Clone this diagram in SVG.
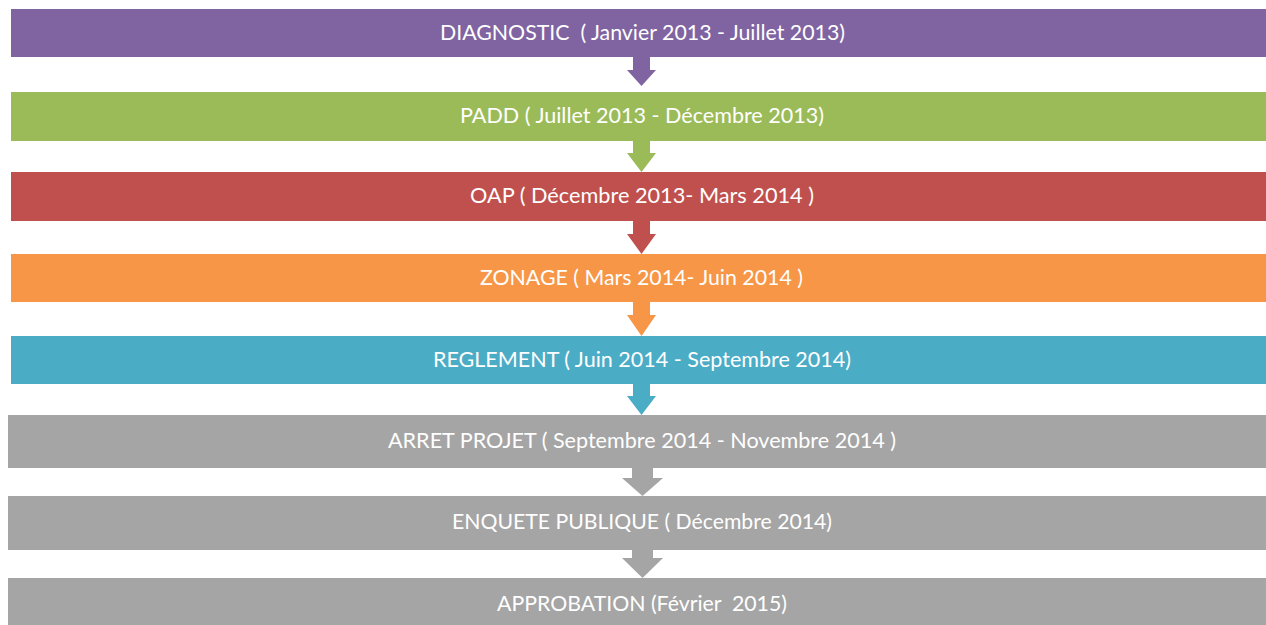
<svg xmlns="http://www.w3.org/2000/svg" width="1266" height="625" viewBox="0 0 1266 625">
<style>
text{font-family:"Lato","Open Sans","Liberation Sans",sans-serif;font-size:21px;fill:#fff;text-anchor:middle;white-space:pre}
.p{fill:#8064A2}.g{fill:#9BBB59}.r{fill:#C0504D}.o{fill:#F79646}.b{fill:#4BACC6}.k{fill:#A5A5A5}
</style>
<rect width="1266" height="625" fill="#fff"/>
<g id="connectors">
<path class="p" d="M633,56 V70 H627 L641.5,86 L656,70 H650 V56 Z"/>
<path class="g" d="M633,139 V153 H627 L641.5,172 L656,153 H650 V139 Z"/>
<path class="r" d="M633,220 V234 H627 L641.5,254 L656,234 H650 V220 Z"/>
<path class="o" d="M633,301 V315 H627 L641.5,336 L656,315 H650 V301 Z"/>
<path class="b" d="M633,383 V396 H627 L641.5,415 L656,396 H650 V383 Z"/>
<path class="k" d="M632,467 V478 H622 L642.5,496 L663,478 H653 V467 Z"/>
<path class="k" d="M632,549 V558 H622 L642.5,578 L663,558 H653 V549 Z"/>
</g>
<g id="n1"><rect class="p" x="11" y="9" width="1255" height="48"/><text x="642.5" y="40" textLength="405" lengthAdjust="spacingAndGlyphs">DIAGNOSTIC  ( Janvier 2013 - Juillet 2013)</text></g>
<g id="n2"><rect class="g" x="11" y="92" width="1255" height="49"/><text x="642" y="123" textLength="364" lengthAdjust="spacingAndGlyphs">PADD ( Juillet 2013 - Décembre 2013)</text></g>
<g id="n3"><rect class="r" x="11" y="172" width="1255" height="49"/><text x="642" y="203" textLength="344" lengthAdjust="spacingAndGlyphs">OAP ( Décembre 2013- Mars 2014 )</text></g>
<g id="n4"><rect class="o" x="11" y="254" width="1255" height="48"/><text x="641.5" y="285" textLength="323" lengthAdjust="spacingAndGlyphs">ZONAGE ( Mars 2014- Juin 2014 )</text></g>
<g id="n5"><rect class="b" x="11" y="336" width="1255" height="48"/><text x="642" y="367" textLength="418" lengthAdjust="spacingAndGlyphs">REGLEMENT ( Juin 2014 - Septembre 2014)</text></g>
<g id="n6"><rect class="k" x="8" y="415" width="1258" height="53"/><text x="642" y="448" textLength="508" lengthAdjust="spacingAndGlyphs">ARRET PROJET ( Septembre 2014 - Novembre 2014 )</text></g>
<g id="n7"><rect class="k" x="8" y="496" width="1258" height="54"/><text x="642" y="529" textLength="380" lengthAdjust="spacingAndGlyphs">ENQUETE PUBLIQUE ( Décembre 2014)</text></g>
<g id="n8"><rect class="k" x="8" y="578" width="1258" height="47"/><text x="642" y="611" textLength="290" lengthAdjust="spacingAndGlyphs">APPROBATION (Février  2015)</text></g>
</svg>
